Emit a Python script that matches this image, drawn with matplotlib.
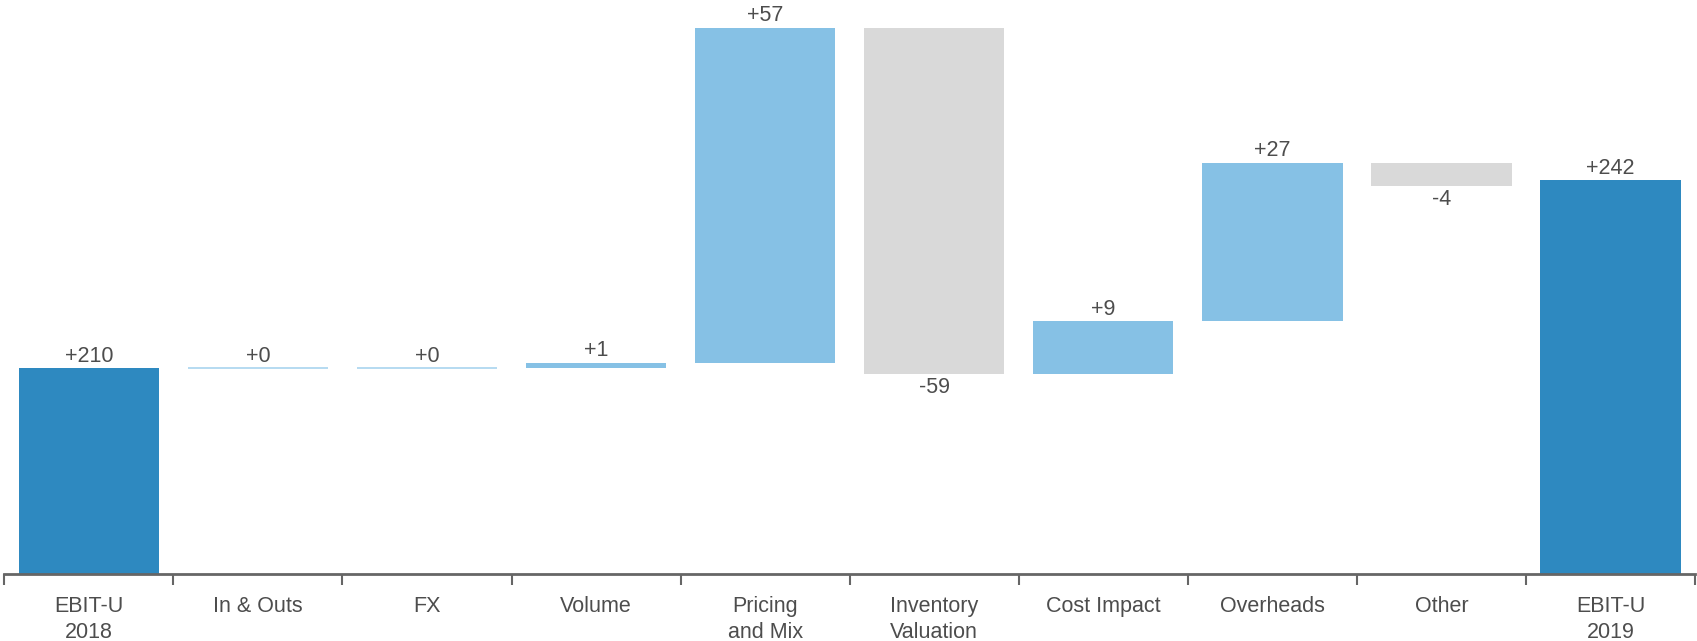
import numpy as np
import matplotlib
matplotlib.use('Agg')
from matplotlib import pyplot as plt

plt.rcParams['font.family'] = ['Liberation Sans', 'DejaVu Sans']

# EBIT-U bridge, 2018 -> 2019
categories = ['EBIT-U\n2018', 'In & Outs', 'FX', 'Volume', 'Pricing\nand Mix',
              'Inventory\nValuation', 'Cost Impact', 'Overheads', 'Other', 'EBIT-U\n2019']
start_value = 210
changes = [0, 0, 1, 57, -59, 9, 27, -4]
end_value = 242

DARK_BLUE = '#2e89c0'
LIGHT_BLUE = '#86c1e5'
GREY = '#d9d9d9'
TEXT = '#4d4d4d'
AXIS = '#666666'

Y_FLOOR = 175   # the axis does not start at zero
Y_TOP = 272.7
BAR_WIDTH = 0.83
FS = 15.5


def fmt(v):
    return f'+{v}' if v >= 0 else f'{v}'


fig = plt.figure(figsize=(16.97, 6.41), dpi=100)
ax = fig.add_axes([0.0025, 0.1045, 0.9964, 0.8955])

x = np.arange(len(categories))

# totals at both ends
for xi, val in [(x[0], start_value), (x[-1], end_value)]:
    ax.bar(xi, val - Y_FLOOR, bottom=Y_FLOOR, width=BAR_WIDTH, color=DARK_BLUE, zorder=2)
    ax.text(xi, val + 0.3, fmt(val), ha='center', va='bottom', fontsize=FS, color=TEXT)

# floating steps
running = start_value
for xi, delta in zip(x[1:-1], changes):
    lo = min(running, running + delta)
    color = LIGHT_BLUE if delta >= 0 else GREY
    if delta == 0:
        ax.bar(xi, 0.0, bottom=running, width=BAR_WIDTH, color=color,
               edgecolor='#a9d4ef', linewidth=1.2, zorder=2)
    else:
        ax.bar(xi, abs(delta), bottom=lo, width=BAR_WIDTH, color=color, zorder=2)
    if delta >= 0:
        ax.text(xi, running + delta + 0.3, fmt(delta), ha='center', va='bottom',
                fontsize=FS, color=TEXT)
    else:
        ax.text(xi, running + delta - 0.5, fmt(delta), ha='center', va='top',
                fontsize=FS, color=TEXT)
    running += delta

ax.set_xlim(-0.5, len(categories) - 0.5)
ax.set_ylim(Y_FLOOR, Y_TOP)

for side in ['top', 'right', 'left']:
    ax.spines[side].set_visible(False)
ax.spines['bottom'].set_color(AXIS)
ax.spines['bottom'].set_linewidth(2)
ax.spines['bottom'].set_zorder(3)

ax.set_yticks([])
ax.set_xticks(x)
ax.set_xticklabels(categories, fontsize=FS, color=TEXT, linespacing=1.3)
ax.tick_params(axis='x', which='major', length=0, pad=16)
ax.set_xticks(np.arange(-0.5, len(categories)), minor=True)
ax.tick_params(axis='x', which='minor', length=8, width=1.5, color=AXIS)

fig.savefig('out.png', dpi=100)
